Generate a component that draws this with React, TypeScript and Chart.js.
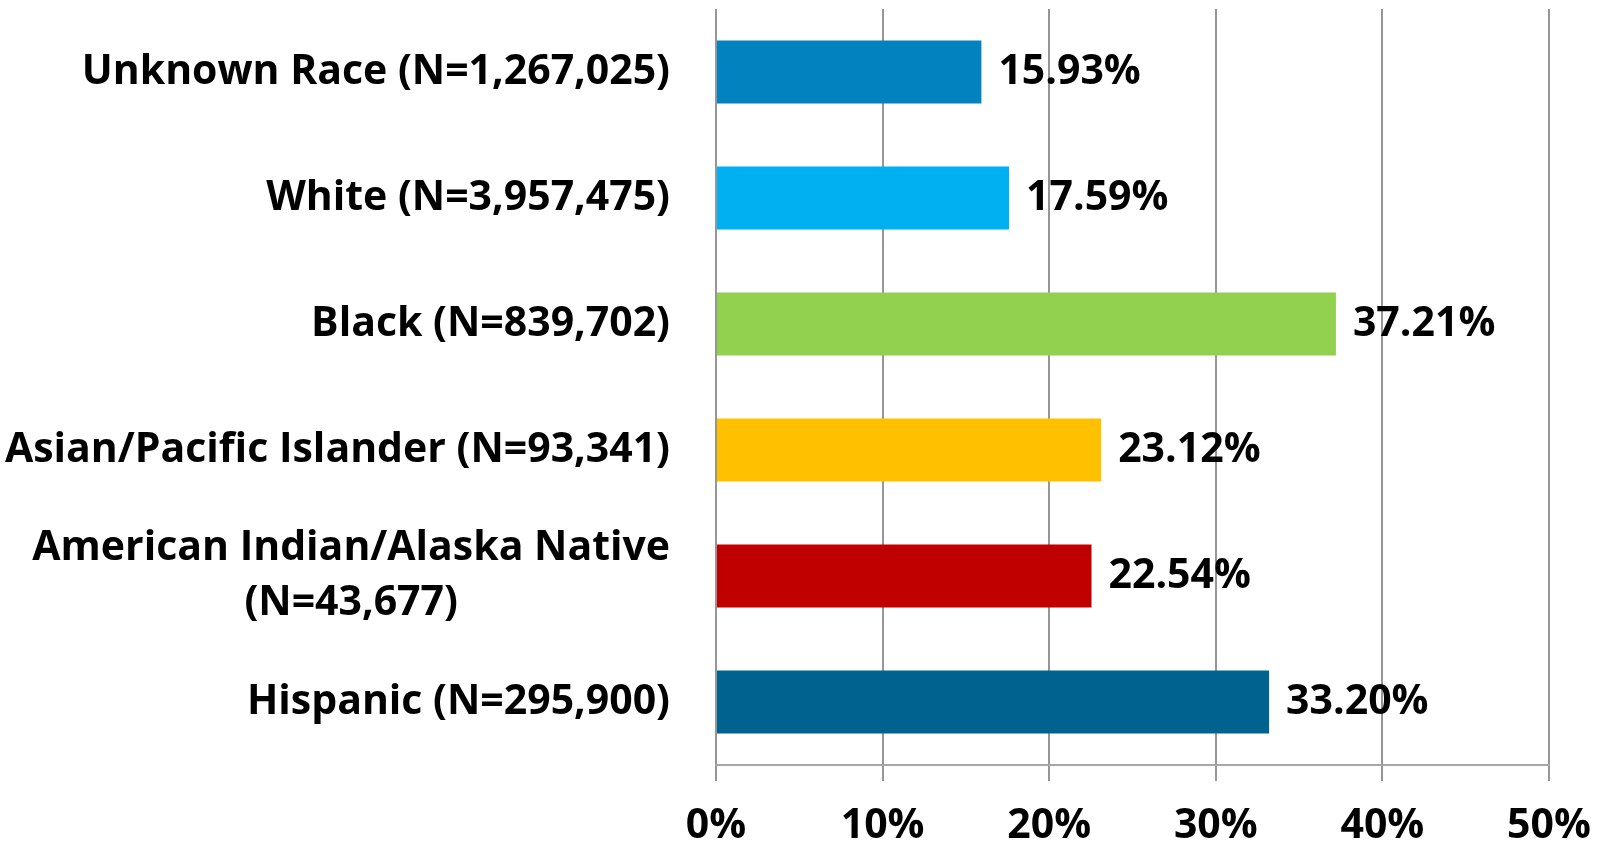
import React, { useEffect, useRef } from "react";
import { Chart, registerables } from "chart.js";

Chart.register(...registerables);

const categories: string[][] = [
  ["Unknown Race (N=1,267,025)"],
  ["White (N=3,957,475)"],
  ["Black (N=839,702)"],
  ["Asian/Pacific Islander (N=93,341)"],
  ["American Indian/Alaska Native", "(N=43,677)"],
  ["Hispanic (N=295,900)"],
];
const values: number[] = [15.93, 17.59, 37.21, 23.12, 22.54, 33.2];
const barColors: string[] = ["#0282BE", "#00B0F0", "#92D050", "#FFC000", "#C00000", "#00628F"];
const xTicks: number[] = [0, 10, 20, 30, 40, 50];

const FONT = '"Open Sans", sans-serif';
const FONT_SIZE = 41;

const labelsPlugin = {
  id: "customLabels",
  afterDraw(chart: any) {
    const ctx = chart.ctx;
    const yScale = chart.scales.y;
    ctx.save();
    ctx.font = `bold ${FONT_SIZE}px ${FONT}`;
    ctx.fillStyle = "#000";
    ctx.textBaseline = "middle";
    const rightEdge = yScale.right - 46;
    const lineH = 55;
    categories.forEach((lines, i) => {
      const cy = yScale.getPixelForTick(i);
      const widest = Math.max(...lines.map((l) => ctx.measureText(l).width));
      const cx = rightEdge - widest / 2;
      ctx.textAlign = "center";
      lines.forEach((line, j) => {
        const y = cy + (j - (lines.length - 1) / 2) * lineH;
        ctx.fillText(line, cx, y);
      });
    });
    const meta = chart.getDatasetMeta(0);
    ctx.textAlign = "left";
    meta.data.forEach((bar: any, i: number) => {
      ctx.fillText(values[i].toFixed(2) + "%", bar.x + 17, bar.y);
    });
    ctx.restore();
  },
};

export default function App() {
  const ref = useRef<HTMLCanvasElement | null>(null);
  useEffect(() => {
    if (!ref.current) return;
    const chart = new Chart(ref.current, {
      type: "bar",
      data: {
        labels: categories.map((c) => c.join(" ")),
        datasets: [
          {
            data: values,
            backgroundColor: barColors,
            borderWidth: 0,
            barPercentage: 0.5,
            categoryPercentage: 1,
          },
        ],
      },
      options: {
        indexAxis: "y",
        animation: false,
        responsive: false,
        maintainAspectRatio: false,
        layout: { padding: { top: 9, right: 52, left: 0, bottom: 0 } },
        plugins: { legend: { display: false }, tooltip: { enabled: false } },
        scales: {
          x: {
            min: 0,
            max: 50,
            afterBuildTicks: (scale: any) => {
              scale.ticks = xTicks.map((v) => ({ value: v }));
            },
            afterFit: (scale: any) => {
              scale.height = 80;
              scale.paddingLeft = 0;
              scale.paddingRight = 0;
            },
            grid: {
              color: "#969696",
              lineWidth: 2,
              drawTicks: true,
              tickLength: 16,
              tickColor: "#969696",
              tickWidth: 2,
            },
            border: { display: true, color: "#A6A6A6", width: 2 },
            ticks: {
              padding: 21,
              color: "#000",
              font: { family: FONT, size: FONT_SIZE, weight: "bold", lineHeight: 1.2 },
              callback: (v: any) => v + "%",
              maxRotation: 0,
            },
          },
          y: {
            afterFit: (scale: any) => {
              scale.width = 716;
            },
            grid: { display: false, drawTicks: false, tickLength: 0 },
            border: { display: false },
            ticks: { display: false },
          },
        },
      },
      plugins: [labelsPlugin],
    } as any);
    return () => chart.destroy();
  }, []);
  return (
    <div style={{ position: "fixed", left: 0, top: 0, width: 1601, height: 845, background: "#fff" }}>
      <canvas ref={ref} width={1601} height={845} style={{ display: "block" }} />
    </div>
  );
}
